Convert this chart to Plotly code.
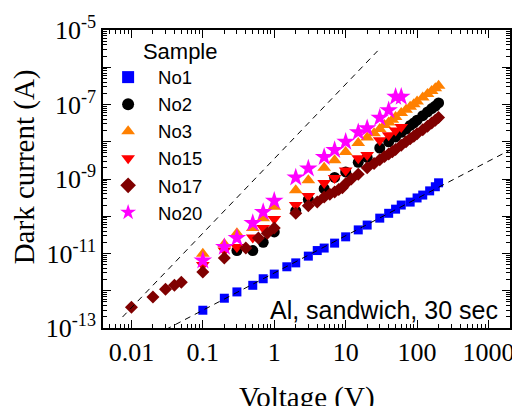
import plotly.graph_objects as go

# ---- data (voltage in V, dark current in A) ----
v_no1 = [0.1, 0.2, 0.3, 0.5, 0.7, 1, 1.5, 2, 3, 4, 5, 7, 10, 15, 20, 30, 40, 50, 60, 80, 100, 120, 150, 180, 200]
i_no1 = [3.0e-13, 6.3e-13, 9.3e-13, 1.4e-12, 2.1e-12, 2.8e-12, 4.4e-12, 5.6e-12, 8.5e-12, 1.2e-11, 1.4e-11,
         1.9e-11, 2.8e-11, 4.3e-11, 5.8e-11, 8.9e-11, 1.2e-10, 1.55e-10, 2.0e-10, 2.4e-10, 3.1e-10, 3.7e-10,
         4.8e-10, 6.2e-10, 7.9e-10]

v_no2 = [0.3, 0.5, 0.7, 1, 2, 3, 5, 7, 10, 15, 20, 30, 40, 50, 60, 70, 80, 90, 100, 120, 140, 160, 180, 200]
i_no2 = [1.2e-11, 1.2e-11, 2.0e-11, 3.8e-11, 1.4e-10, 2.8e-10, 5.5e-10, 1.1e-9, 1.55e-9, 2.8e-9, 3.8e-9,
         6.8e-9, 1.0e-8, 1.35e-8, 1.8e-8, 2.2e-8, 2.75e-8, 3.2e-8, 3.8e-8, 5.0e-8, 6.3e-8, 7.8e-8, 9.1e-8, 1.1e-7]

v_no3 = [0.1, 0.2, 0.3, 0.5, 0.7, 1, 2, 3, 5, 7, 10, 15, 20, 25, 30, 35, 40, 45, 50, 60, 70, 80, 90, 100,
         120, 140, 160, 180, 200]
i_no3 = [9.8e-12, 1.8e-11, 3.5e-11, 4.8e-11, 8.9e-11, 1.8e-10, 5.0e-10, 9.3e-10, 2.0e-9, 3.2e-9, 5.3e-9,
         9.3e-9, 1.3e-8, 1.7e-8, 2.2e-8, 2.8e-8, 3.3e-8, 3.9e-8, 4.6e-8, 5.9e-8, 7.2e-8, 8.7e-8, 1.02e-7,
         1.2e-7, 1.55e-7, 1.9e-7, 2.3e-7, 2.75e-7, 3.2e-7]

v_no15 = [0.1, 0.2, 0.3, 0.5, 0.7, 1, 2, 3, 5, 7, 10, 15, 20, 30, 40, 50, 60]
i_no15 = [4.9e-12, 1.2e-11, 1.5e-11, 2.7e-11, 4.8e-11, 8.5e-11, 2.0e-10, 3.5e-10, 7.8e-10, 1.07e-9, 1.7e-9,
          3.6e-9, 4.4e-9, 1.1e-8, 1.5e-8, 2.0e-8, 2.5e-8]

v_no17 = [0.01, 0.02, 0.03, 0.04, 0.05, 0.1, 0.2, 0.4, 0.6, 0.8, 1, 2, 3, 4, 5, 6, 7, 8, 9, 10, 12, 15, 20,
          25, 30, 35, 40, 45, 50, 60, 70, 80, 90, 100, 120, 140, 160, 180, 200]
i_no17 = [3.6e-13, 6.8e-13, 1.1e-12, 1.4e-12, 1.7e-12, 3.2e-12, 7.6e-12, 1.4e-11, 2.6e-11, 3.5e-11, 4.8e-11,
          1.2e-10, 1.9e-10, 2.4e-10, 3.3e-10, 3.9e-10, 4.5e-10, 5.2e-10, 5.8e-10, 7.5e-10, 1.0e-9, 1.35e-9,
          2.0e-9, 2.6e-9, 3.3e-9, 4.0e-9, 4.7e-9, 5.4e-9, 6.2e-9, 8.0e-9, 1.0e-8, 1.2e-8, 1.4e-8, 1.65e-8,
          2.1e-8, 2.6e-8, 3.2e-8, 3.8e-8, 4.5e-8]

v_no20 = [0.1, 0.2, 0.3, 0.5, 0.7, 1, 2, 3, 5, 7, 10, 15, 20, 30, 40, 50, 60]
i_no20 = [6.5e-12, 1.5e-11, 2.6e-11, 6.6e-11, 1.3e-10, 2.6e-10, 1.1e-9, 1.9e-9, 3.9e-9, 6.0e-9, 1.0e-8,
          1.8e-8, 2.3e-8, 4.4e-8, 7.0e-8, 1.6e-7, 1.6e-7]

# guide lines I = a * V^n
ohmic_v = [0.03, 2000]
ohmic_a, ohmic_n = 3e-12, 1
sclc_v = [0.0075, 28]
sclc_a, sclc_n = 3.5e-9, 2

x_tickvals = [0.01, 0.1, 1, 10, 100, 1000]
x_ticktext = ["0.01", "0.1", "1", "10", "100", "1000"]
y_exponents = [-13, -12, -11, -10, -9, -8, -7, -6, -5]
y_tickvals = [10.0 ** e for e in y_exponents]
y_ticktext = [f"10<sup>{e}</sup>" if e % 2 else " " for e in y_exponents]

series = [
    ("No1", v_no1, i_no1, "square", "#0000FF", 9),
    ("No2", v_no2, i_no2, "circle", "#000000", 11),
    ("No3", v_no3, i_no3, "triangle-up", "#FF8000", 12),
    ("No15", v_no15, i_no15, "triangle-down", "#FF0000", 12),
    ("No17", v_no17, i_no17, "diamond", "#800000", 10),
    ("No20", v_no20, i_no20, "star", "#FF00FF", 14),
]

fig = go.Figure()
for name, v, i, sym, col, sz in series:
    fig.add_trace(go.Scatter(x=v, y=i, mode="markers", name=name,
                             marker=dict(symbol=sym, color=col, size=sz, line=dict(width=0))))

for vv, a, n in [(ohmic_v, ohmic_a, ohmic_n), (sclc_v, sclc_a, sclc_n)]:
    fig.add_trace(go.Scatter(x=vv, y=[a * x ** n for x in vv], mode="lines", showlegend=False,
                             line=dict(color="black", width=1, dash="6px,5px"), hoverinfo="skip"))

serif = "Liberation Serif, Times New Roman, serif"
sans = "Liberation Sans, Arial, sans-serif"

axis_common = dict(type="log", showgrid=False, zeroline=False, showline=True, linecolor="black",
                   linewidth=1.5, mirror="ticks", ticks="inside", ticklen=8, tickwidth=1.2,
                   tickcolor="black", automargin=False, ticklabeloverflow="allow",
                   tickfont=dict(family=serif, size=26, color="black"),
                   minor=dict(ticks="inside", ticklen=4, tickwidth=1, tickcolor="black", dtick="D1"))

fig.update_xaxes(**axis_common, range=[-2.398, 3.301], tickvals=x_tickvals, ticktext=x_ticktext)
fig.update_yaxes(**axis_common, range=[-13, -5], tickvals=y_tickvals, ticktext=y_ticktext)

# axis titles (placed as in the reference, x title partly below the page edge)
fig.add_annotation(text="Voltage (V)", xref="paper", yref="paper", x=0.5, y=-0.232,
                   xanchor="center", yanchor="middle", showarrow=False,
                   font=dict(family=serif, size=29, color="black"))
fig.add_annotation(text="Dark current (A)", xref="paper", yref="paper", x=-0.192, y=0.542,
                   xanchor="center", yanchor="middle", showarrow=False, textangle=-90,
                   font=dict(family=serif, size=29, color="black"))

fig.add_annotation(text="Al, sandwich, 30 sec", xref="paper", yref="paper", x=0.975, y=0.062,
                   xanchor="right", yanchor="middle", showarrow=False,
                   font=dict(family=sans, size=25, color="black"))

# page body has an 8 px margin: size the figure so the plot lands where the reference has it
fig.update_layout(
    width=512, height=398,
    margin=dict(l=95, r=10, t=22, b=78),
    paper_bgcolor="white", plot_bgcolor="white",
    showlegend=True,
    legend=dict(x=-0.012, y=1.0, xanchor="left", yanchor="top", bgcolor="rgba(0,0,0,0)",
                font=dict(family=sans, size=18.5, color="black"),
                title=dict(text="&nbsp;" * 7 + "Sample", font=dict(family=sans, size=22, color="black")),
                itemsizing="constant", itemwidth=50, tracegroupgap=0),
)

fig.write_html("out.html")
